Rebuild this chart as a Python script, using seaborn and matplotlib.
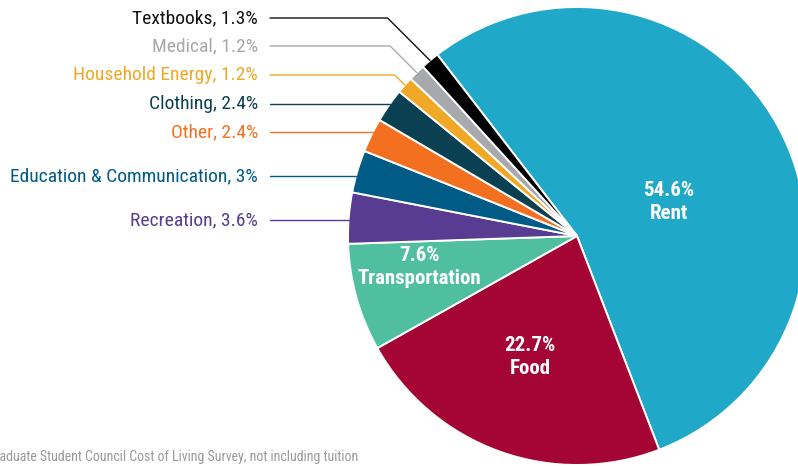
import numpy as np
import matplotlib.pyplot as plt
import seaborn as sns

categories = ['Rent', 'Food', 'Transportation', 'Recreation',
              'Education & Communication', 'Other', 'Clothing',
              'Household Energy', 'Medical', 'Textbooks']
shares = [54.6, 22.7, 7.6, 3.6, 3, 2.4, 2.4, 1.2, 1.2, 1.3]
colors = ['#1fa8c8', '#a50535', '#4fbf9f', '#573c91', '#005b87',
          '#f37021', '#0b4052', '#f0a826', '#a7a9ac', '#000000']
label_colors = colors[:8] + ['#a7a9ac', '#111111']

W, H = 798, 466
sns.set_theme(style='white')
plt.rcParams['font.family'] = ['Roboto Condensed', 'Liberation Sans', 'DejaVu Sans']

fig = plt.figure(figsize=(W / 100, H / 100), dpi=100)
ax = fig.add_axes([0, 0, 1, 1])

cx, cy, R = 577, H - 236, 229
wedges, _ = ax.pie(shares, colors=colors, center=(cx, cy), radius=R,
                   startangle=127.6, counterclock=False,
                   wedgeprops=dict(edgecolor='white', linewidth=1.4))
ax.set_xlim(0, W)
ax.set_ylim(0, H)
ax.axis('off')

# inside labels
inner_pos = {'Rent': (669, 202), 'Food': (530, 357), 'Transportation': (419, 267)}
for cat, val in zip(categories, shares):
    if cat in inner_pos:
        x, y = inner_pos[cat]
        ax.text(x, H - y, f'{val:g}%\n{cat}', ha='center', va='center',
                color='white', fontsize=15, fontweight='bold', linespacing=1.3)

# outside labels with leader lines
label_y = {'Textbooks': 18, 'Medical': 46, 'Household Energy': 75, 'Clothing': 104,
           'Other': 132, 'Education & Communication': 176, 'Recreation': 220}
for w, cat, val, col in zip(wedges, categories, shares, label_colors):
    if cat not in label_y:
        continue
    ly = H - label_y[cat]
    ax.text(258, ly, f'{cat}, {val:g}%', ha='right', va='center',
            color=col, fontsize=14)
    # where a horizontal line at the label height meets the circle
    hx = cx - np.sqrt(R ** 2 - (ly - cy) ** 2)
    th = np.degrees(np.arctan2(ly - cy, hx - cx)) % 360
    t1, t2 = w.theta1 % 360, w.theta2 % 360
    if t1 + 1 < th < t2 - 1:
        ax.plot([270, hx], [ly, ly], color=col, lw=1.0)
    else:
        mid = np.deg2rad((w.theta1 + w.theta2) / 2)
        px, py = cx + R * np.cos(mid), cy + R * np.sin(mid)
        ex = px - abs(py - ly)
        ax.plot([270, ex, px], [ly, ly, py], color=col, lw=1.0)

ax.text(358, H - 457, 'Graduate Student Council Cost of Living Survey, not including tuition',
        ha='right', va='center', color='#9a9a9a', fontsize=10)

fig.savefig('out.png', dpi=100)
